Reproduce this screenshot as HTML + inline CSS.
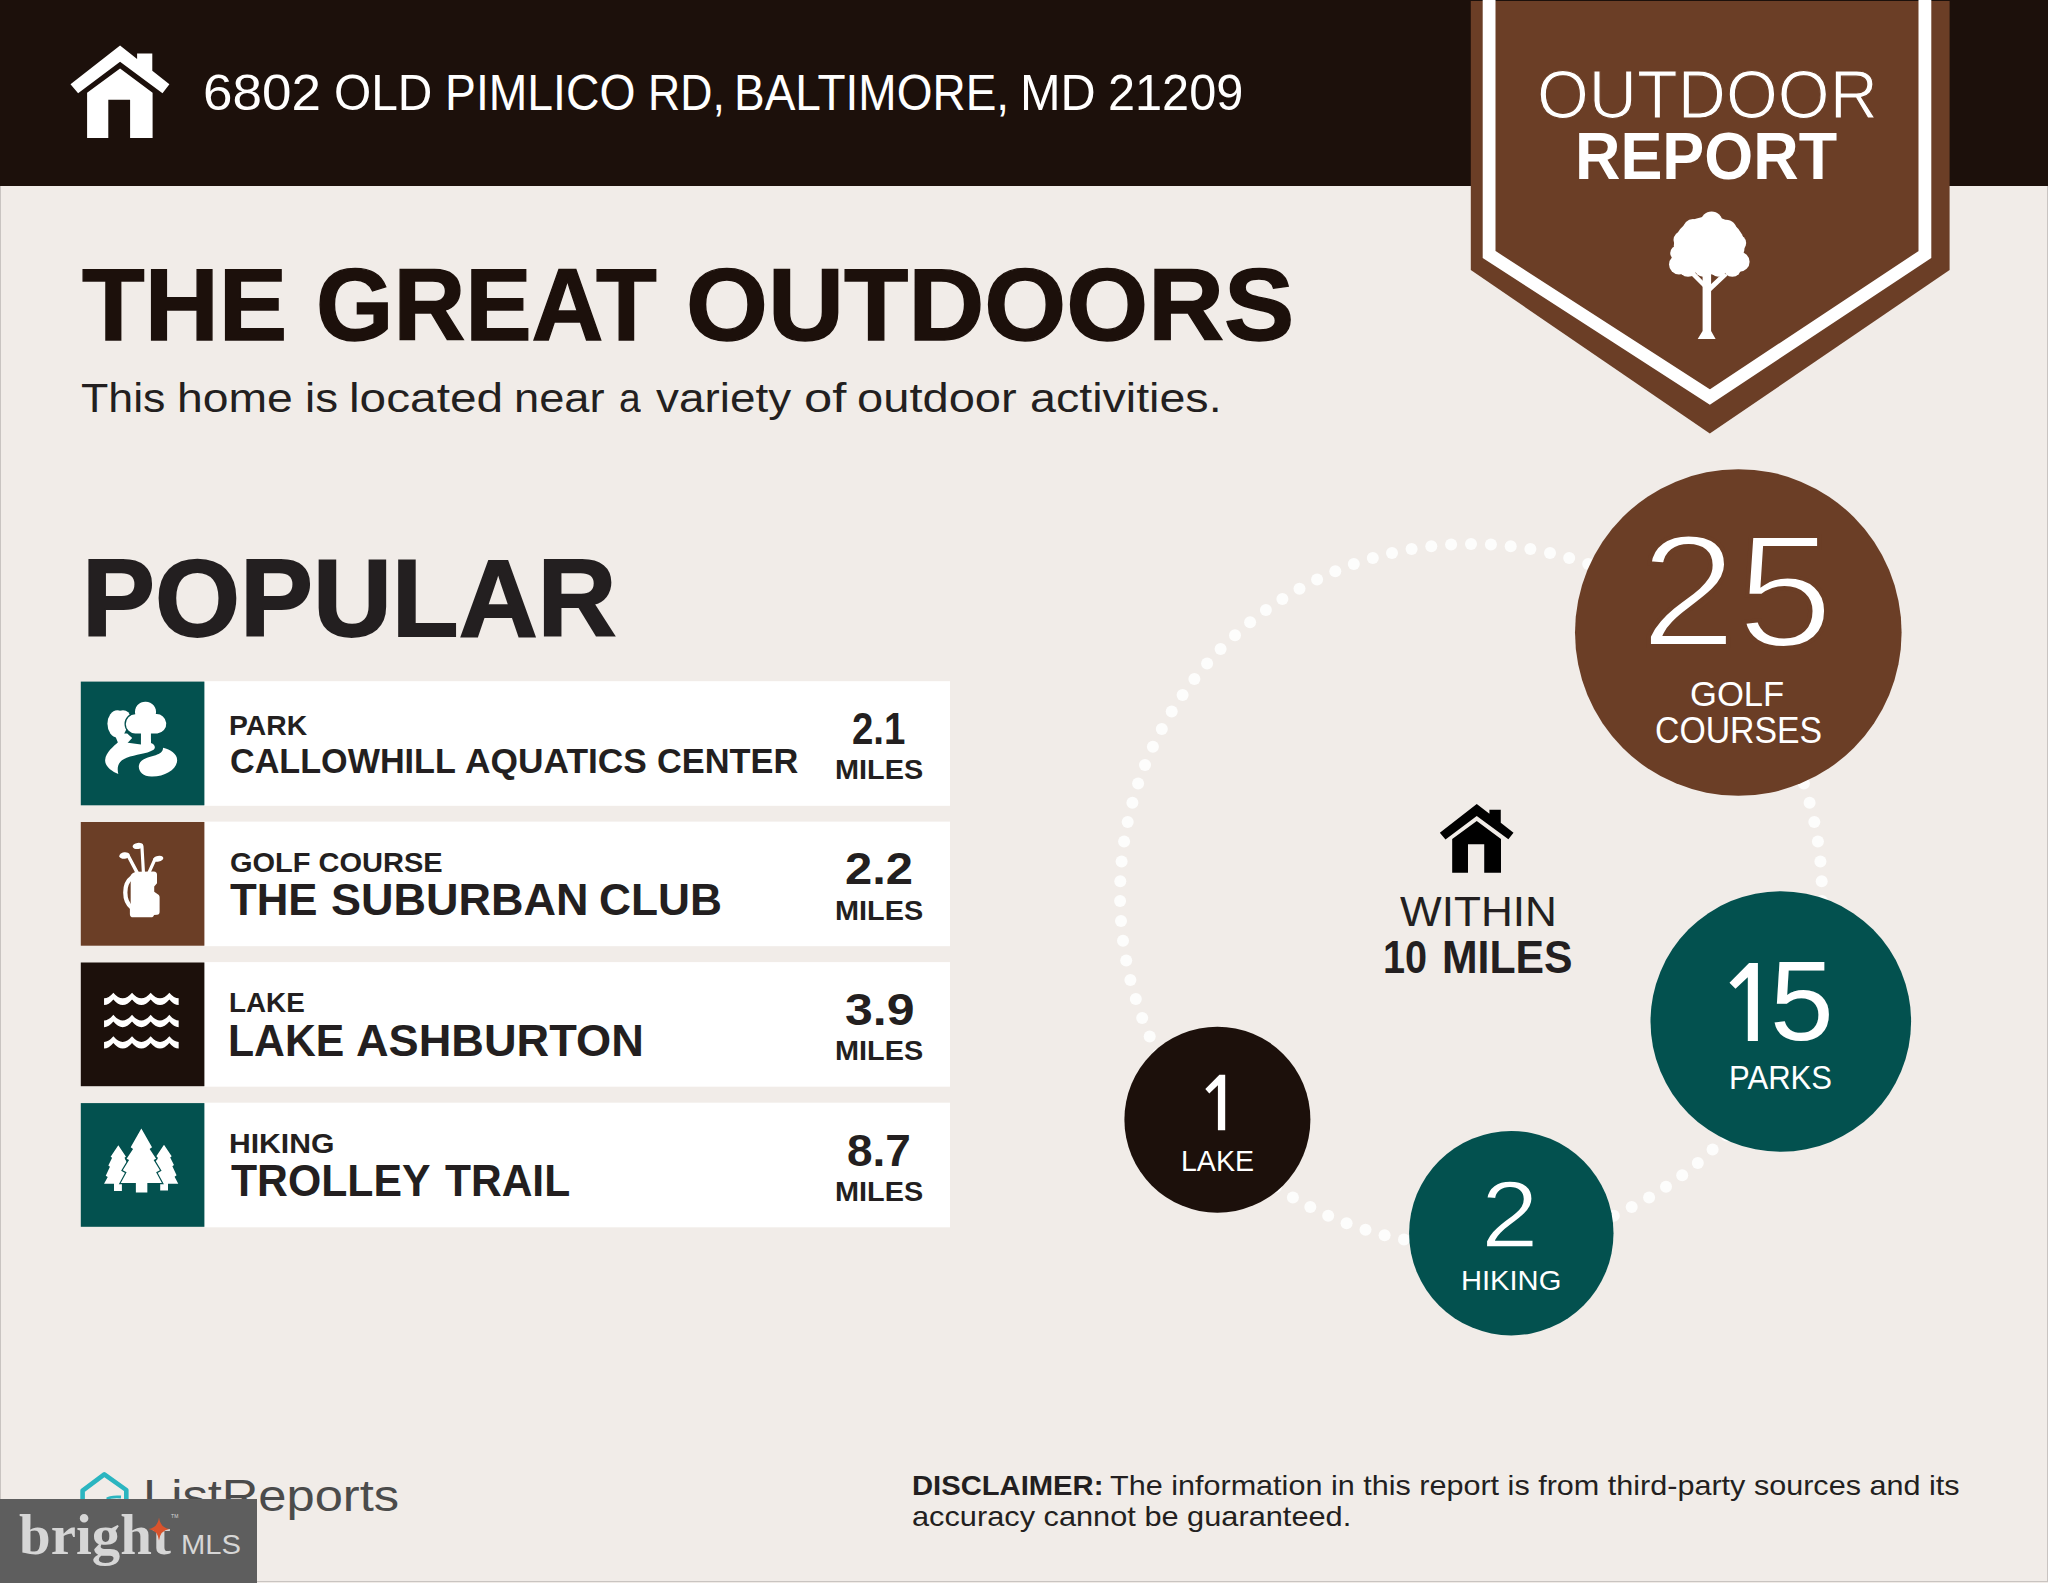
<!DOCTYPE html>
<html><head><meta charset="utf-8"><title>Outdoor Report</title>
<style>
html,body{margin:0;padding:0}
body{width:2048px;height:1583px;position:relative;overflow:hidden;background:#f1ece8;font-family:"Liberation Sans",sans-serif}
.t{position:absolute;white-space:pre;line-height:1;transform-origin:0 0}
.hdr{position:absolute;left:0;top:0;width:2048px;height:185.5px;background:#1c100b}
.abs{position:absolute;left:0;top:0}
.frame{position:absolute;left:0;top:186px;width:2046px;height:1395px;border:1px solid #c9c4c1;border-top:none;box-sizing:content-box}
.wm{position:absolute;left:0;top:1499px;width:257px;height:84px;background:#5e5e5e}
</style></head><body>
<div class="hdr"></div>
<div class="frame"></div>
<svg class="abs" width="2048" height="1583" viewBox="0 0 2048 1583">
<g fill="#fdfdfc"><circle cx="1463.3" cy="1245.9" r="6"/><circle cx="1443.5" cy="1244.9" r="6"/><circle cx="1423.7" cy="1242.8" r="6"/><circle cx="1404.0" cy="1239.6" r="6"/><circle cx="1384.6" cy="1235.2" r="6"/><circle cx="1365.5" cy="1229.8" r="6"/><circle cx="1346.6" cy="1223.2" r="6"/><circle cx="1328.2" cy="1215.7" r="6"/><circle cx="1310.3" cy="1207.0" r="6"/><circle cx="1292.9" cy="1197.4" r="6"/><circle cx="1276.0" cy="1186.8" r="6"/><circle cx="1259.8" cy="1175.3" r="6"/><circle cx="1244.2" cy="1162.9" r="6"/><circle cx="1229.4" cy="1149.6" r="6"/><circle cx="1215.3" cy="1135.5" r="6"/><circle cx="1202.1" cy="1120.6" r="6"/><circle cx="1189.8" cy="1105.0" r="6"/><circle cx="1178.3" cy="1088.7" r="6"/><circle cx="1167.8" cy="1071.8" r="6"/><circle cx="1158.3" cy="1054.4" r="6"/><circle cx="1149.7" cy="1036.4" r="6"/><circle cx="1142.2" cy="1017.9" r="6"/><circle cx="1135.8" cy="999.1" r="6"/><circle cx="1130.4" cy="979.9" r="6"/><circle cx="1126.2" cy="960.5" r="6"/><circle cx="1123.0" cy="940.8" r="6"/><circle cx="1121.0" cy="921.0" r="6"/><circle cx="1120.1" cy="901.1" r="6"/><circle cx="1120.3" cy="881.2" r="6"/><circle cx="1121.6" cy="861.4" r="6"/><circle cx="1124.1" cy="841.6" r="6"/><circle cx="1127.7" cy="822.0" r="6"/><circle cx="1132.4" cy="802.7" r="6"/><circle cx="1138.1" cy="783.6" r="6"/><circle cx="1145.0" cy="764.9" r="6"/><circle cx="1152.9" cy="746.7" r="6"/><circle cx="1161.8" cy="728.9" r="6"/><circle cx="1171.7" cy="711.6" r="6"/><circle cx="1182.6" cy="694.9" r="6"/><circle cx="1194.4" cy="678.9" r="6"/><circle cx="1207.1" cy="663.6" r="6"/><circle cx="1220.6" cy="649.0" r="6"/><circle cx="1235.0" cy="635.2" r="6"/><circle cx="1250.1" cy="622.2" r="6"/><circle cx="1265.9" cy="610.1" r="6"/><circle cx="1282.4" cy="599.0" r="6"/><circle cx="1299.5" cy="588.8" r="6"/><circle cx="1317.1" cy="579.5" r="6"/><circle cx="1335.3" cy="571.3" r="6"/><circle cx="1353.8" cy="564.1" r="6"/><circle cx="1372.8" cy="558.0" r="6"/><circle cx="1392.0" cy="553.0" r="6"/><circle cx="1411.6" cy="549.1" r="6"/><circle cx="1431.3" cy="546.3" r="6"/><circle cx="1451.1" cy="544.6" r="6"/><circle cx="1471.0" cy="544.0" r="6"/><circle cx="1490.9" cy="544.6" r="6"/><circle cx="1510.7" cy="546.3" r="6"/><circle cx="1530.4" cy="549.1" r="6"/><circle cx="1550.0" cy="553.0" r="6"/><circle cx="1569.2" cy="558.0" r="6"/><circle cx="1588.2" cy="564.1" r="6"/><circle cx="1606.7" cy="571.3" r="6"/><circle cx="1624.9" cy="579.5" r="6"/><circle cx="1642.5" cy="588.8" r="6"/><circle cx="1659.6" cy="599.0" r="6"/><circle cx="1676.1" cy="610.1" r="6"/><circle cx="1691.9" cy="622.2" r="6"/><circle cx="1707.0" cy="635.2" r="6"/><circle cx="1721.4" cy="649.0" r="6"/><circle cx="1734.9" cy="663.6" r="6"/><circle cx="1747.6" cy="678.9" r="6"/><circle cx="1759.4" cy="694.9" r="6"/><circle cx="1770.3" cy="711.6" r="6"/><circle cx="1780.2" cy="728.9" r="6"/><circle cx="1789.1" cy="746.7" r="6"/><circle cx="1797.0" cy="764.9" r="6"/><circle cx="1803.9" cy="783.6" r="6"/><circle cx="1809.6" cy="802.7" r="6"/><circle cx="1814.3" cy="822.0" r="6"/><circle cx="1817.9" cy="841.6" r="6"/><circle cx="1820.4" cy="861.4" r="6"/><circle cx="1821.7" cy="881.2" r="6"/><circle cx="1821.9" cy="901.1" r="6"/><circle cx="1821.0" cy="921.0" r="6"/><circle cx="1819.0" cy="940.8" r="6"/><circle cx="1815.8" cy="960.5" r="6"/><circle cx="1811.6" cy="979.9" r="6"/><circle cx="1806.2" cy="999.1" r="6"/><circle cx="1799.8" cy="1017.9" r="6"/><circle cx="1792.3" cy="1036.4" r="6"/><circle cx="1783.7" cy="1054.4" r="6"/><circle cx="1774.2" cy="1071.8" r="6"/><circle cx="1763.7" cy="1088.7" r="6"/><circle cx="1752.2" cy="1105.0" r="6"/><circle cx="1739.9" cy="1120.6" r="6"/><circle cx="1726.7" cy="1135.5" r="6"/><circle cx="1712.6" cy="1149.6" r="6"/><circle cx="1697.8" cy="1162.9" r="6"/><circle cx="1682.2" cy="1175.3" r="6"/><circle cx="1666.0" cy="1186.8" r="6"/><circle cx="1649.1" cy="1197.4" r="6"/><circle cx="1631.7" cy="1207.0" r="6"/><circle cx="1613.8" cy="1215.7" r="6"/><circle cx="1595.4" cy="1223.2" r="6"/><circle cx="1576.5" cy="1229.8" r="6"/><circle cx="1557.4" cy="1235.2" r="6"/><circle cx="1538.0" cy="1239.6" r="6"/><circle cx="1518.3" cy="1242.8" r="6"/><circle cx="1498.5" cy="1244.9" r="6"/><circle cx="1478.7" cy="1245.9" r="6"/></g>
<circle cx="1738.3" cy="632.5" r="163.3" fill="#6b3e26"/>
<circle cx="1780.8" cy="1021.5" r="130.3" fill="#03514f"/>
<circle cx="1511.3" cy="1233.2" r="102.2" fill="#03514f"/>
<circle cx="1217.4" cy="1119.7" r="93" fill="#1c100b"/>
<polygon points="1470.8,1 1949.6,1 1949.6,270 1709.8,433.6 1470.8,270" fill="#6b3e26"/>
<polyline points="1489.1,0 1489.1,254.5 1709.8,397 1924.9,254.5 1924.9,0" fill="none" stroke="#fff" stroke-width="12.8"/>
<g fill="#fff"><circle cx="1711.6" cy="222.2" r="10.8"/><circle cx="1693" cy="229" r="10"/><circle cx="1726" cy="230.5" r="10.8"/><circle cx="1682.5" cy="240" r="9"/><circle cx="1738" cy="243" r="8.2"/><circle cx="1677.8" cy="253" r="7.6"/><circle cx="1679" cy="264.5" r="10"/><circle cx="1739.6" cy="261.8" r="10"/><circle cx="1688" cy="267.8" r="9"/><circle cx="1703" cy="268.5" r="8.3"/><circle cx="1718.2" cy="268.5" r="8.3"/><circle cx="1732.3" cy="267.8" r="9"/><ellipse cx="1709.3" cy="245.5" rx="35.5" ry="29"/>
<path d="M1702.6,270 L1711.1,270 L1711.1,331 L1715.6,339 L1697.7,339 L1702.6,331Z"/>
<path d="M1704.5,288.5 L1690.5,274.5 L1694.5,272 L1705,283Z M1709.5,292.5 L1727.5,275.5 L1723.5,272.5 L1709.5,285.5Z"/></g>
<g fill="#fff"><polygon points="1749.06,962.95 1757.9,962.95 1757.9,1040.97 1747.8,1040.97 1747.8,977.16 1735.5,988.85 1729.5,982.85"/><polygon points="1219.4,1074.65 1225.2,1074.65 1225.2,1130.2 1217.9,1130.2 1217.9,1085.3 1209.3,1093.6 1205.3,1089.05"/></g>
<g fill="#fff"><polygon points="120.06,45.60 137.10,58.90 137.10,53.40 152.30,53.40 152.30,70.80 169.40,84.20 162.50,93.20 120.06,61.70 78.10,93.30 70.50,84.20"/><polygon points="120.06,68.60 152.60,92.80 152.60,137.90 130.10,137.90 130.10,99.80 108.30,99.80 108.30,137.90 87.10,137.90 87.10,92.80"/></g>
<g fill="#000"><polygon points="1476.75,803.90 1489.44,813.81 1489.44,809.71 1500.77,809.71 1500.77,822.67 1513.51,832.66 1508.37,839.36 1476.75,815.89 1445.49,839.44 1439.83,832.66"/><polygon points="1476.75,821.03 1500.99,839.06 1500.99,872.66 1484.23,872.66 1484.23,844.28 1467.99,844.28 1467.99,872.66 1452.19,872.66 1452.19,839.06"/></g>
<path d="M82.6,1499 V1490.6 L104.3,1474.3 L126.3,1490 V1499" fill="none" stroke="#2bb5c0" stroke-width="4.6" stroke-linejoin="round"/><path d="M107,1499 C109,1497 114,1496.6 121,1497" fill="none" stroke="#2bb5c0" stroke-width="3"/>
<rect x="204" y="681.2" width="746" height="124.6" fill="#fff"/><rect x="80.8" y="681.6" width="123.6" height="123.7" fill="#03514f"/><svg x="80.8" y="681.6" width="123.7" height="123.7" viewBox="0 0 124 124"><g fill="#fff">
<ellipse cx="36.6" cy="42.3" rx="9.9" ry="13.6"/><circle cx="42.3" cy="36.0" r="7.4"/>
<path d="M33.5,52 L46.5,52 L51.5,56.5 L46.8,61.5 L46.8,63 L38,63Z"/>
<path d="M38,60 C33,65 25,70.5 24.4,78.5 C24,85 31,90 37.6,92.6 C35.5,84 39,79 46,76.3 C55,73 66,72.5 72.5,68.6 C75.5,66.6 74.5,63 70.3,61.5 L70.3,58 L60.3,58 L60.3,63 Z"/>
<path d="M82.4,66.3 C90,68 96.8,72.5 96.6,79 C96.3,88 84,95.6 70.7,95.2 C62,94.8 57.6,89.5 58.2,84.3 C59,78 67,76 75,73.8 C79.5,72.5 82.6,70 82.4,66.3Z"/>
</g>
<g fill="#fff" stroke="#03514f" stroke-width="2.6" paint-order="stroke"><path d="M65.1,20.1 A10.3,10.3 0 0 1 75.2,32.6 A9.5,9.5 0 0 1 76.7,52 L54.8,52 A9.5,9.5 0 0 1 54.6,32.8 A10.3,10.3 0 0 1 65.1,20.1Z"/></g>
<rect x="60.3" y="50" width="10" height="12" fill="#fff"/>
</svg>
<rect x="204" y="821.6" width="746" height="124.6" fill="#fff"/><rect x="80.8" y="822.0" width="123.6" height="123.7" fill="#6b3e26"/><svg x="80.8" y="822.0" width="123.7" height="123.7" viewBox="0 0 124 124"><g fill="#fff">
<path d="M50,54 C51,51 54.5,49.9 57,49.9 L73,49.7 C75.5,49.7 76.4,51 76.4,53 L76.4,61.5 L73.6,64.7 L73.6,69.8 L77.5,72.6 C78.6,73.4 79,74 79,75.5 L79,90 C79,92 78.2,92.9 76.5,93 L73.4,93.3 C73,94.8 72,95.6 70.5,95.6 L52.5,95.6 C50.3,95.6 49.2,94.5 49.2,92.5 L49.2,86 L50,84 L50,57Z"/>
<ellipse cx="43.8" cy="33.6" rx="5.2" ry="3.2" transform="rotate(-8 43.8 33.6)"/>
<ellipse cx="57.3" cy="24" rx="5.4" ry="3.1" transform="rotate(-8 57.3 24)"/>
<ellipse cx="77.6" cy="36.8" rx="5.2" ry="2.9" transform="rotate(-12 77.6 36.8)"/>
</g>
<g stroke="#fff" fill="none" stroke-linecap="round">
<path d="M51.2,55.6 C42.4,62 42.4,79 51.2,86" stroke-width="4.3"/>
<path d="M47.5,33.8 L56.6,51" stroke-width="3.4"/>
<path d="M61.3,24.6 L62.8,51" stroke-width="3.2"/>
<path d="M74.2,37.6 L68.2,51" stroke-width="3.2"/>
</g></svg>
<rect x="204" y="962.1" width="746" height="124.6" fill="#fff"/><rect x="80.8" y="962.5" width="123.6" height="123.7" fill="#1c100b"/><svg x="80.8" y="962.5" width="123.7" height="123.7" viewBox="0 0 124 124"><g fill="#fff"><path d="M23.30,35.90 Q27.98,35.90 32.65,30.30 Q42.00,41.50 51.35,30.30 Q60.70,41.50 70.05,30.30 Q79.40,41.50 88.75,30.30 Q93.42,35.90 98.10,35.90 L98.10,42.60 Q93.42,42.60 88.75,37.00 Q79.40,48.20 70.05,37.00 Q60.70,48.20 51.35,37.00 Q42.00,48.20 32.65,37.00 Q27.98,42.60 23.30,42.60 Z"/><path d="M23.30,58.10 Q27.98,58.10 32.65,52.50 Q42.00,63.70 51.35,52.50 Q60.70,63.70 70.05,52.50 Q79.40,63.70 88.75,52.50 Q93.42,58.10 98.10,58.10 L98.10,64.80 Q93.42,64.80 88.75,59.20 Q79.40,70.40 70.05,59.20 Q60.70,70.40 51.35,59.20 Q42.00,70.40 32.65,59.20 Q27.98,64.80 23.30,64.80 Z"/><path d="M23.30,79.60 Q27.98,79.60 32.65,74.00 Q42.00,85.20 51.35,74.00 Q60.70,85.20 70.05,74.00 Q79.40,85.20 88.75,74.00 Q93.42,79.60 98.10,79.60 L98.10,86.30 Q93.42,86.30 88.75,80.70 Q79.40,91.90 70.05,80.70 Q60.70,91.90 51.35,80.70 Q42.00,91.90 32.65,80.70 Q27.98,86.30 23.30,86.30 Z"/></g></svg>
<rect x="204" y="1102.7" width="746" height="124.6" fill="#fff"/><rect x="80.8" y="1103.1" width="123.6" height="123.7" fill="#03514f"/><svg x="80.8" y="1103.1" width="123.7" height="123.7" viewBox="0 0 124 124"><g fill="#fff"><polygon points="37.6,42.2 29.9,53.7 31.4,54.9 27.6,62.5 29.2,63.8 25.0,72.8 27.0,74.2 23.3,80.9 33.3,80.9 33.3,88.2 41.2,88.2 41.2,80.9 51.9,80.9 48.2,74.2 50.2,72.8 46.0,63.8 47.6,62.5 43.8,54.9 45.3,53.7"/><polygon points="83.4,41.8 75.7,53.3 77.2,54.5 73.4,62.1 75.0,63.4 70.8,72.4 72.8,73.8 69.1,80.9 79.6,80.9 79.6,87.7 87.4,87.7 87.4,80.9 97.7,80.9 94.0,73.8 96.0,72.4 91.8,63.4 93.4,62.1 89.6,54.5 91.1,53.3"/>
<polygon points="60.7,25.5 50.0,44.2 52.4,45.9 45.9,55.7 48.4,57.0 42.1,67.3 45.9,69.4 40.1,80.2 55.2,80.2 55.2,89.6 66.7,89.6 66.7,80.2 81.3,80.2 75.5,69.4 79.3,67.3 73.0,57.0 75.5,55.7 69.0,45.9 71.4,44.2" stroke="#03514f" stroke-width="2.4" paint-order="stroke" stroke-linejoin="miter"/></g></svg>
</svg>
<div class="t" style="left:202.65px;top:68.99px;font-size:49.71px;font-weight:400;color:#fff;font-family:'Liberation Sans';transform:scaleX(1.0659);">6802</div>
<div class="t" style="left:333.65px;top:68.99px;font-size:49.71px;font-weight:400;color:#fff;font-family:'Liberation Sans';transform:scaleX(0.9633);">OLD</div>
<div class="t" style="left:444.69px;top:68.99px;font-size:49.71px;font-weight:400;color:#fff;font-family:'Liberation Sans';transform:scaleX(0.9319);">PIMLICO</div>
<div class="t" style="left:647.83px;top:68.99px;font-size:49.71px;font-weight:400;color:#fff;font-family:'Liberation Sans';transform:scaleX(0.8968);">RD,</div>
<div class="t" style="left:734.22px;top:68.99px;font-size:49.71px;font-weight:400;color:#fff;font-family:'Liberation Sans';transform:scaleX(0.9251);">BALTIMORE,</div>
<div class="t" style="left:1019.80px;top:68.99px;font-size:49.71px;font-weight:400;color:#fff;font-family:'Liberation Sans';transform:scaleX(0.9797);">MD</div>
<div class="t" style="left:1107.77px;top:68.99px;font-size:49.71px;font-weight:400;color:#fff;font-family:'Liberation Sans';transform:scaleX(0.9785);">21209</div>
<div class="t" style="left:1536.80px;top:61.41px;font-size:67.68px;font-weight:400;color:#fff;font-family:'Liberation Sans';transform:scaleX(0.9855);-webkit-text-stroke:1.20px #6b3e26;">OUTDOOR</div>
<div class="t" style="left:1575.31px;top:123.24px;font-size:66.81px;font-weight:700;color:#fff;font-family:'Liberation Sans';transform:scaleX(0.9416);">REPORT</div>
<div class="t" style="left:81.57px;top:254.15px;font-size:102.90px;font-weight:700;color:#1c100b;font-family:'Liberation Sans';transform:scaleX(0.9967);-webkit-text-stroke:1.40px #1c100b;">THE</div>
<div class="t" style="left:315.52px;top:254.15px;font-size:102.90px;font-weight:700;color:#1c100b;font-family:'Liberation Sans';transform:scaleX(0.9669);-webkit-text-stroke:1.40px #1c100b;">GREAT</div>
<div class="t" style="left:686.49px;top:254.15px;font-size:102.90px;font-weight:700;color:#1c100b;font-family:'Liberation Sans';transform:scaleX(1.0233);-webkit-text-stroke:1.40px #1c100b;">OUTDOORS</div>
<div class="t" style="left:80.78px;top:378.22px;font-size:41.16px;font-weight:400;color:#231f20;font-family:'Liberation Sans';transform:scaleX(1.0863);">This</div>
<div class="t" style="left:177.26px;top:378.22px;font-size:41.16px;font-weight:400;color:#231f20;font-family:'Liberation Sans';transform:scaleX(1.1246);">home</div>
<div class="t" style="left:304.93px;top:378.22px;font-size:41.16px;font-weight:400;color:#231f20;font-family:'Liberation Sans';transform:scaleX(1.1090);">is</div>
<div class="t" style="left:349.49px;top:378.22px;font-size:41.16px;font-weight:400;color:#231f20;font-family:'Liberation Sans';transform:scaleX(1.1610);">located</div>
<div class="t" style="left:513.96px;top:378.22px;font-size:41.16px;font-weight:400;color:#231f20;font-family:'Liberation Sans';transform:scaleX(1.0996);">near</div>
<div class="t" style="left:619.04px;top:378.22px;font-size:41.16px;font-weight:400;color:#231f20;font-family:'Liberation Sans';transform:scaleX(0.9480);">a</div>
<div class="t" style="left:655.57px;top:378.22px;font-size:41.16px;font-weight:400;color:#231f20;font-family:'Liberation Sans';transform:scaleX(1.1142);">variety</div>
<div class="t" style="left:803.57px;top:378.22px;font-size:41.16px;font-weight:400;color:#231f20;font-family:'Liberation Sans';transform:scaleX(1.2347);">of</div>
<div class="t" style="left:857.02px;top:378.22px;font-size:41.16px;font-weight:400;color:#231f20;font-family:'Liberation Sans';transform:scaleX(1.1445);">outdoor</div>
<div class="t" style="left:1029.70px;top:378.22px;font-size:41.16px;font-weight:400;color:#231f20;font-family:'Liberation Sans';transform:scaleX(1.1320);">activities.</div>
<div class="t" style="left:81.89px;top:544.64px;font-size:108.77px;font-weight:700;color:#231f20;font-family:'Liberation Sans';transform:scaleX(1.0052);-webkit-text-stroke:1.80px #231f20;">POPULAR</div>
<div class="t" style="left:229.06px;top:711.47px;font-size:28.55px;font-weight:700;color:#231f20;font-family:'Liberation Sans';transform:scaleX(0.9914);">PARK</div>
<div class="t" style="left:229.53px;top:743.95px;font-size:34.49px;font-weight:700;color:#231f20;font-family:'Liberation Sans';transform:scaleX(0.9908);">CALLOWHILL</div>
<div class="t" style="left:465.37px;top:743.95px;font-size:34.49px;font-weight:700;color:#231f20;font-family:'Liberation Sans';transform:scaleX(1.0243);">AQUATICS</div>
<div class="t" style="left:656.83px;top:743.95px;font-size:34.49px;font-weight:700;color:#231f20;font-family:'Liberation Sans';transform:scaleX(0.9963);">CENTER</div>
<div class="t" style="left:852.06px;top:707.04px;font-size:44.57px;font-weight:700;color:#231f20;font-family:'Liberation Sans';transform:scaleX(0.8619);">2.1</div>
<div class="t" style="left:834.92px;top:755.42px;font-size:28.26px;font-weight:700;color:#231f20;font-family:'Liberation Sans';transform:scaleX(1.0208);">MILES</div>
<div class="t" style="left:229.74px;top:847.77px;font-size:28.55px;font-weight:700;color:#231f20;font-family:'Liberation Sans';transform:scaleX(1.0155);">GOLF COURSE</div>
<div class="t" style="left:230.46px;top:878.13px;font-size:44.35px;font-weight:700;color:#231f20;font-family:'Liberation Sans';transform:scaleX(0.9870);">THE</div>
<div class="t" style="left:330.55px;top:878.13px;font-size:44.35px;font-weight:700;color:#231f20;font-family:'Liberation Sans';transform:scaleX(1.0146);">SUBURBAN</div>
<div class="t" style="left:599.48px;top:878.13px;font-size:44.35px;font-weight:700;color:#231f20;font-family:'Liberation Sans';transform:scaleX(0.9979);">CLUB</div>
<div class="t" style="left:845.19px;top:847.44px;font-size:44.57px;font-weight:700;color:#231f20;font-family:'Liberation Sans';transform:scaleX(1.0988);">2.2</div>
<div class="t" style="left:834.92px;top:895.82px;font-size:28.26px;font-weight:700;color:#231f20;font-family:'Liberation Sans';transform:scaleX(1.0208);">MILES</div>
<div class="t" style="left:229.09px;top:988.27px;font-size:28.55px;font-weight:700;color:#231f20;font-family:'Liberation Sans';transform:scaleX(0.9739);">LAKE</div>
<div class="t" style="left:228.12px;top:1018.63px;font-size:44.35px;font-weight:700;color:#231f20;font-family:'Liberation Sans';transform:scaleX(0.9631);">LAKE</div>
<div class="t" style="left:355.77px;top:1018.63px;font-size:44.35px;font-weight:700;color:#231f20;font-family:'Liberation Sans';transform:scaleX(1.0187);">ASHBURTON</div>
<div class="t" style="left:844.75px;top:988.03px;font-size:43.94px;font-weight:700;color:#231f20;font-family:'Liberation Sans';transform:scaleX(1.1378);">3.9</div>
<div class="t" style="left:834.92px;top:1036.32px;font-size:28.26px;font-weight:700;color:#231f20;font-family:'Liberation Sans';transform:scaleX(1.0208);">MILES</div>
<div class="t" style="left:228.94px;top:1128.87px;font-size:28.55px;font-weight:700;color:#231f20;font-family:'Liberation Sans';transform:scaleX(1.0544);">HIKING</div>
<div class="t" style="left:230.57px;top:1159.23px;font-size:44.35px;font-weight:700;color:#231f20;font-family:'Liberation Sans';transform:scaleX(0.9637);">TROLLEY</div>
<div class="t" style="left:444.57px;top:1159.23px;font-size:44.35px;font-weight:700;color:#231f20;font-family:'Liberation Sans';transform:scaleX(0.9586);">TRAIL</div>
<div class="t" style="left:847.12px;top:1128.63px;font-size:43.94px;font-weight:700;color:#231f20;font-family:'Liberation Sans';transform:scaleX(1.0470);">8.7</div>
<div class="t" style="left:834.92px;top:1176.92px;font-size:28.26px;font-weight:700;color:#231f20;font-family:'Liberation Sans';transform:scaleX(1.0208);">MILES</div>
<div class="t" style="left:1639.99px;top:511.12px;font-size:159.86px;font-weight:400;color:#fff;font-family:'Liberation Sans';transform:scaleX(1.0892);-webkit-text-stroke:4.00px #6b3e26;">25</div>
<div class="t" style="left:1690.47px;top:676.23px;font-size:35.94px;font-weight:400;color:#fff;font-family:'Liberation Sans';transform:scaleX(0.9637);">GOLF</div>
<div class="t" style="left:1654.91px;top:712.97px;font-size:36.96px;font-weight:400;color:#fff;font-family:'Liberation Sans';transform:scaleX(0.9144);">COURSES</div>
<div class="t" style="left:1769.72px;top:945.47px;font-size:112.79px;font-weight:400;color:#fff;font-family:'Liberation Sans';transform:scaleX(1.0154);">5</div>
<div class="t" style="left:1729.31px;top:1061.27px;font-size:33.77px;font-weight:400;color:#fff;font-family:'Liberation Sans';transform:scaleX(0.9200);">PARKS</div>
<div class="t" style="left:1481.02px;top:1167.36px;font-size:95.43px;font-weight:400;color:#fff;font-family:'Liberation Sans';transform:scaleX(1.0848);-webkit-text-stroke:1.60px #03514f;">2</div>
<div class="t" style="left:1460.87px;top:1267.14px;font-size:28.12px;font-weight:400;color:#fff;font-family:'Liberation Sans';transform:scaleX(1.0357);">HIKING</div>
<div class="t" style="left:1180.82px;top:1145.62px;font-size:29.57px;font-weight:400;color:#fff;font-family:'Liberation Sans';transform:scaleX(0.9654);">LAKE</div>
<div class="t" style="left:1399.58px;top:890.09px;font-size:43.26px;font-weight:400;color:#231f20;font-family:'Liberation Sans';transform:scaleX(1.0205);">WITHIN</div>
<div class="t" style="left:1383.33px;top:935.24px;font-size:45.58px;font-weight:700;color:#231f20;font-family:'Liberation Sans';transform:scaleX(0.8689);">10</div>
<div class="t" style="left:1442.12px;top:935.24px;font-size:45.58px;font-weight:700;color:#231f20;font-family:'Liberation Sans';transform:scaleX(0.9371);">MILES</div>
<div class="t" style="left:911.80px;top:1471.96px;font-size:27.97px;font-weight:700;color:#231f20;font-family:'Liberation Sans';transform:scaleX(1.0437);">DISCLAIMER:</div>
<div class="t" style="left:1110.14px;top:1471.96px;font-size:27.97px;font-weight:400;color:#231f20;font-family:'Liberation Sans';transform:scaleX(1.0930);">The information in this report is from third-party sources and its</div>
<div class="t" style="left:911.82px;top:1502.76px;font-size:27.97px;font-weight:400;color:#231f20;font-family:'Liberation Sans';transform:scaleX(1.0991);">accuracy cannot be guaranteed.</div>
<div class="t" style="left:142.55px;top:1473.90px;font-size:44.49px;font-weight:400;color:#4b4b4b;font-family:'Liberation Sans';transform:scaleX(1.1383);">ListReports</div>
<div class="wm"></div>
<div class="t" style="left:18.65px;top:1506.31px;font-size:57.14px;font-weight:700;color:#d6d6d6;font-family:'Liberation Serif';transform:scaleX(0.9971);">bright</div>
<div class="t" style="left:181.26px;top:1531.94px;font-size:26.81px;font-weight:400;color:#d6d6d6;font-family:'Liberation Sans';transform:scaleX(1.0899);">MLS</div>
<div class="t" style="left:171px;top:1514px;font-size:5px;color:#d6d6d6;letter-spacing:0.3px">TM</div>
<svg class="abs" width="2048" height="1583" viewBox="0 0 2048 1583"><rect x="155" y="1515" width="15" height="14" fill="#5e5e5e"/><path d="M159,1517.5 Q160.3,1527.7 169.5,1529 Q160.3,1530.3 159,1540.5 Q157.7,1530.3 148.5,1529 Q157.7,1527.7 159,1517.5Z" fill="#d9532c"/></svg>
</body></html>
